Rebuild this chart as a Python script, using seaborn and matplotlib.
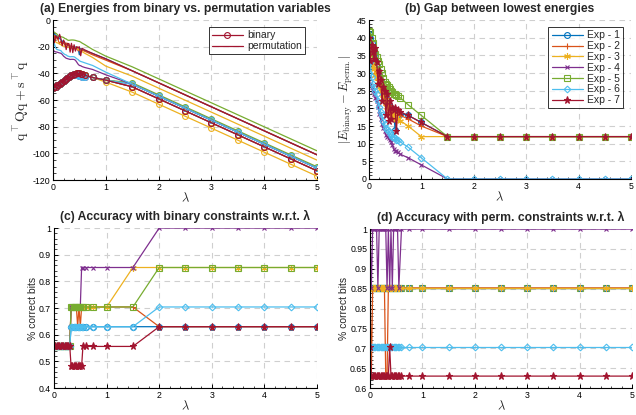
import matplotlib
matplotlib.use("Agg")
import matplotlib.pyplot as plt
import seaborn as sns
from matplotlib.ticker import MultipleLocator, AutoMinorLocator, FuncFormatter

# ---------------- data ----------------
lam = [0, 0.025, 0.05, 0.075, 0.1, 0.125, 0.15, 0.175, 0.2, 0.225, 0.25, 0.275,
       0.3, 0.325, 0.35, 0.375, 0.4, 0.425, 0.45, 0.475, 0.5, 0.525, 0.55, 0.6,
       0.75, 1, 1.5, 2, 2.5, 3, 3.5, 4, 4.5, 5]

exp_names = ["Exp - 1", "Exp - 2", "Exp - 3", "Exp - 4", "Exp - 5", "Exp - 6", "Exp - 7"]

# binary energies  q^T Q q + s^T q
e_bin_1 = [-51, -50.5, -49.8, -49, -48.3, -47.6, -46.9, -46.2, -45.5, -44.8, -44.1, -43.4,
           -42.7, -42, -41.4, -40.9, -40.5, -40.2, -40, -40, -40, -40.2, -40.6, -41.3,
           -43, -45, -50, -59, -68, -77, -86, -95, -104, -113]
e_bin_2 = [-51, -50.5, -49.8, -49, -48.3, -47.6, -46.9, -46.2, -45.5, -44.8, -44.1, -43.4,
           -42.7, -42, -41.4, -40.9, -40.5, -40.2, -40, -40, -40, -40.2, -40.6, -41.3,
           -43, -45, -50, -59, -68, -77, -86, -95, -104, -113]
e_bin_3 = [-51, -50.5, -49.8, -49, -48.3, -47.6, -46.9, -46.2, -45.5, -44.8, -44.1, -43.4,
           -42.7, -42, -41.4, -40.9, -40.5, -40.2, -40, -40, -40, -40.2, -40.6, -41.3,
           -43, -46.5, -54, -63, -72, -81, -90, -99, -108, -117]
e_bin_4 = [-51, -50.5, -49.8, -49, -48.3, -47.6, -46.9, -46.2, -45.5, -44.8, -44.1, -43.4,
           -42.7, -42, -41.4, -40.9, -40.5, -40.6, -41, -41.5, -42, -42, -42.3, -42.5,
           -43, -45, -48, -57, -66, -75, -84, -93, -102, -111]
e_bin_5 = [-51, -50.5, -49.8, -49, -48.3, -47.6, -46.9, -46.2, -45.5, -44.8, -44.1, -43.4,
           -42.7, -42, -41.4, -40.9, -40.5, -40.2, -40, -40, -40, -40.2, -40.6, -41.3,
           -43, -45, -47, -56, -65, -74, -83, -92, -101, -110]
e_bin_6 = [-51, -50.5, -49.8, -49, -48.3, -47.6, -46.9, -46.2, -45.5, -44.8, -44.1, -43.4,
           -42.7, -42, -41.4, -40.9, -40.5, -40.6, -41, -41.5, -42, -42, -42.3, -42.5,
           -43, -45, -48, -57, -66, -75, -84, -93, -102, -111]
e_bin_7 = [-51, -50.5, -49.8, -49, -48.3, -47.6, -46.9, -46.2, -45.5, -44.8, -44.1, -43.4,
           -42.7, -42, -41.4, -40.9, -40.5, -40.2, -40, -40, -40, -40.2, -40.6, -41.3,
           -43, -45, -50, -59, -68, -77, -86, -95, -104, -113]

# gap |E_binary - E_perm|
gap_1 = [41, 40, 38.5, 37, 35.5, 34, 32, 30.5, 29, 27.5, 26, 25, 23.5, 22.5, 21.5, 21, 20.5,
         20, 19.5, 19, 14, 19, 18.5, 18.5, 18, 16, 12, 12, 12, 12, 12, 12, 12, 12]
gap_2 = [36, 39, 35, 37, 33, 30, 31, 28, 29, 26, 27, 24, 25, 21, 23, 19, 21, 18, 20, 17,
         19, 17, 18, 18, 17, 15, 12, 12, 12, 12, 12, 12, 12, 12]
gap_3 = [36, 35, 33.5, 32, 31, 29.5, 28.5, 27, 26, 25, 24, 23, 22.5, 21.5, 20.5, 20, 19.5,
         19, 18.5, 18, 17.5, 17, 17, 16.5, 15, 12, 12, 12, 12, 12, 12, 12, 12, 12]
gap_4 = [29, 27, 26, 25, 24, 23, 22, 20.5, 18.5, 17, 15.5, 14.5, 13.5, 12.5, 12, 11.5, 11,
         10.5, 9.5, 8.5, 8, 7.8, 7.5, 7, 6, 4, 0, 0, 0, 0, 0, 0, 0, 0]
gap_5 = [42, 41.5, 40, 38.5, 36.5, 35.5, 34.5, 33.5, 32.5, 31, 30, 28.5, 27.5, 27, 26.5, 26,
         25.5, 25, 24.5, 24.2, 24, 23.7, 23.4, 23, 21, 18, 12, 12, 12, 12, 12, 12, 12, 12]
gap_6 = [30, 33, 29, 27, 26, 25, 24, 22, 20.5, 19, 18, 16.5, 15.5, 14.5, 14, 13.5, 13, 12.5,
         12, 12, 11.5, 11, 11, 10.5, 9, 6, 0, 0, 0, 0, 0, 0, 0, 0]
gap_7 = [40, 33.5, 38, 36, 34, 37, 33, 27, 30.5, 28, 22, 26, 25, 18, 24, 16.5, 22, 17, 20,
         19.5, 20, 13.5, 19.5, 19, 18, 16, 12, 12, 12, 12, 12, 12, 12, 12]

e_perm_1 = [b + g for b, g in zip(e_bin_1, gap_1)]
e_perm_2 = [b + g for b, g in zip(e_bin_2, gap_2)]
e_perm_3 = [b + g for b, g in zip(e_bin_3, gap_3)]
e_perm_4 = [b + g for b, g in zip(e_bin_4, gap_4)]
e_perm_5 = [b + g for b, g in zip(e_bin_5, gap_5)]
e_perm_6 = [b + g for b, g in zip(e_bin_6, gap_6)]
e_perm_7 = [b + g for b, g in zip(e_bin_7, gap_7)]

# accuracy with binary constraints
acc_bin_1 = [0.556] * 13 + [0.630] * 21
acc_bin_2 = [0.556] * 13 + [0.704] * 5 + [0.630, 0.704, 0.630] + [0.704] * 6 + [0.630] * 7
acc_bin_3 = [0.556] * 13 + [0.704] * 13 + [0.852] * 8
acc_bin_4 = [0.556] * 13 + [0.704] * 8 + [0.852] * 6 + [1.0] * 7
acc_bin_5 = [0.556] * 13 + [0.704] * 14 + [0.852] * 7
acc_bin_6 = [0.556] * 13 + [0.630] * 14 + [0.704] * 7
acc_bin_7 = [0.556] * 13 + [0.481] * 9 + [0.556] * 5 + [0.630] * 7

# accuracy with permutation constraints
acc_perm_1 = [0.852] * 34
acc_perm_2 = [0.852, 0.630] + [0.852] * 10 + [0.630, 0.630] + [0.852] * 20
acc_perm_3 = [0.852] * 34
acc_perm_4 = [1, 0.852, 1, 1, 1, 1, 0.852, 1, 1, 1, 1, 1, 1, 0.852, 1, 0.852, 1, 0.852,
              1, 1, 1, 1, 0.852] + [1] * 11
acc_perm_5 = [0.852] * 34
acc_perm_6 = [0.704] * 34
acc_perm_7 = [0.704] + [0.630] * 14 + [0.704] + [0.630] * 18

e_bin = [e_bin_1, e_bin_2, e_bin_3, e_bin_4, e_bin_5, e_bin_6, e_bin_7]
e_perm = [e_perm_1, e_perm_2, e_perm_3, e_perm_4, e_perm_5, e_perm_6, e_perm_7]
gaps = [gap_1, gap_2, gap_3, gap_4, gap_5, gap_6, gap_7]
acc_bin = [acc_bin_1, acc_bin_2, acc_bin_3, acc_bin_4, acc_bin_5, acc_bin_6, acc_bin_7]
acc_perm = [acc_perm_1, acc_perm_2, acc_perm_3, acc_perm_4, acc_perm_5, acc_perm_6, acc_perm_7]

# ---------------- style ----------------
colors = ["#0072BD", "#D95319", "#EDB120", "#7E2F8E", "#77AC30", "#4DBEEE", "#A2142F"]
markers = ["o", "+", (6, 2, 0), "x", "s", "D", "*"]
msizes = [4.2, 5, 4.8, 3.5, 3.8, 3.4, 5.2]
filled = [False, False, False, False, False, False, True]

sns.set_theme(style="white")
plt.rcParams["font.family"] = ["Liberation Sans", "DejaVu Sans"]
plt.rcParams["mathtext.fontset"] = "cm"

fig = plt.figure(figsize=(6.36, 4.15), dpi=100)
axA = fig.add_axes([0.0833, 0.566, 0.415, 0.3855])
axB = fig.add_axes([0.580, 0.5687, 0.412, 0.383])
axC = fig.add_axes([0.0849, 0.065, 0.4135, 0.3855])
axD = fig.add_axes([0.5818, 0.065, 0.412, 0.383])


def draw(ax, y, i, marker=True, label="_nolegend_", marker_override=None):
    c = colors[i]
    kw = dict(x=lam, y=y, ax=ax, color=c, linewidth=0.9, label=label,
              estimator=None, legend=False)
    if marker:
        m = marker_override if marker_override is not None else markers[i]
        ms = 4.2 if marker_override is not None else msizes[i]
        fc = c if (filled[i] and marker_override is None) else "none"
        kw.update(marker=m, markersize=ms, markerfacecolor=fc,
                  markeredgecolor=c, markeredgewidth=0.8)
    sns.lineplot(**kw)


def fmt_g(v, pos):
    return "%g" % v


def style(ax, ylim, ymaj, yminor_n, title, ylabel):
    ax.set_xlim(0, 5)
    ax.set_ylim(*ylim)
    ax.xaxis.set_major_locator(MultipleLocator(1))
    ax.xaxis.set_minor_locator(MultipleLocator(0.2))
    ax.yaxis.set_major_locator(MultipleLocator(ymaj))
    ax.yaxis.set_minor_locator(AutoMinorLocator(yminor_n))
    ax.yaxis.set_major_formatter(FuncFormatter(fmt_g))
    ax.grid(True, which="major", color="#cfcfcf", linestyle=(0, (5, 4)), linewidth=0.8)
    ax.set_axisbelow(True)
    for s in ["top", "right"]:
        ax.spines[s].set_visible(False)
    for s in ["left", "bottom"]:
        ax.spines[s].set_color("black")
        ax.spines[s].set_linewidth(0.8)
    ax.tick_params(which="major", direction="in", length=3, width=0.7, labelsize=6.3,
                   colors="black", pad=2, left=True, bottom=True)
    ax.tick_params(which="minor", direction="in", length=1.8, width=0.6, left=True, bottom=True)
    ax.set_title(title, fontsize=8.7, fontweight="bold", pad=5.5)
    ax.set_xlabel(r"$\lambda$", fontsize=9, labelpad=0)
    ax.set_ylabel(ylabel, labelpad=1)


def legend(ax, anchor):
    lg = ax.legend(loc="upper right", bbox_to_anchor=anchor, fontsize=7.5,
                   frameon=True, fancybox=False, edgecolor="black", handlelength=3.0,
                   labelspacing=0.08, borderpad=0.3, handletextpad=0.4, borderaxespad=0)
    lg.get_frame().set_linewidth(0.7)
    return lg


# (a)
for i in range(7):
    lb = "binary" if i == 6 else "_nolegend_"
    draw(axA, e_bin[i], i, marker=True, label=lb, marker_override="o")
for i in range(7):
    lb = "permutation" if i == 6 else "_nolegend_"
    draw(axA, e_perm[i], i, marker=False, label=lb)
style(axA, (-120, 0), 20, 4, "(a) Energies from binary vs. permutation variables",
      r"$\mathrm{q}^\top\mathrm{Qq}+\mathrm{s}^\top\mathrm{q}$")
axA.yaxis.label.set_size(10)
legend(axA, (0.955, 0.955))

# (b)
for i in range(7):
    draw(axB, gaps[i], i, marker=True, label=exp_names[i])
style(axB, (0, 45), 5, 5, "(b) Gap between lowest energies",
      r"$|E_{\mathrm{binary}}-E_{\mathrm{perm.}}|$")
axB.yaxis.label.set_size(9)
legend(axB, (0.97, 0.955))

# (c)
for i in range(7):
    draw(axC, acc_bin[i], i, marker=True)
style(axC, (0.4, 1.0), 0.1, 5, "(c) Accuracy with binary constraints w.r.t. \u03bb",
      "% correct bits")
axC.yaxis.label.set_size(7.5)

# (d)  (green drawn first so the yellow/blue markers sit on top at 0.852)
for i in [4, 0, 1, 2, 3, 5, 6]:
    draw(axD, acc_perm[i], i, marker=True)
style(axD, (0.6, 1.0), 0.05, 5, "(d) Accuracy with perm. constraints w.r.t. \u03bb",
      "% correct bits")
axD.yaxis.label.set_size(7.5)

fig.savefig("out.png", dpi=100)
